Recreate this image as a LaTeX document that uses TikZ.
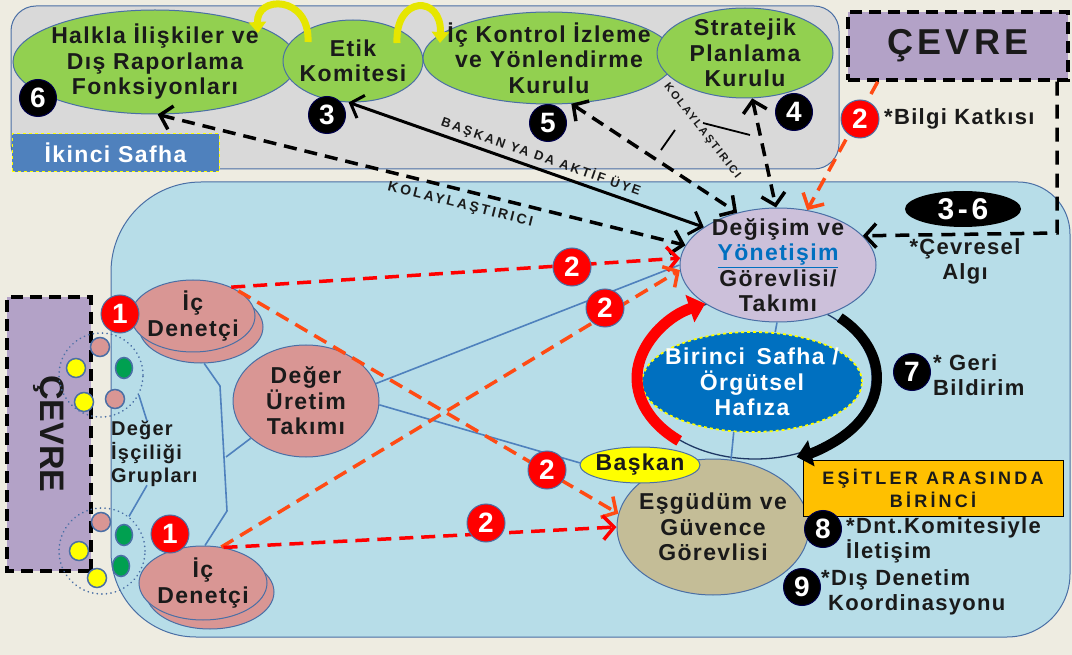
\documentclass[tikz,border=0pt]{standalone}
\usepackage{fontspec}
\setmainfont{Liberation Sans}
\newfontfamily\lab{Liberation Sans}[LetterSpace=6]
\newfontfamily\labw{Liberation Sans}[LetterSpace=18]
\newfontfamily\labx{Liberation Sans}[LetterSpace=12]
\usetikzlibrary{arrows.meta,shapes.geometric,calc}

\definecolor{bg}{HTML}{EEECE1}
\definecolor{panelgray}{HTML}{D9D9D9}
\definecolor{panelblue}{HTML}{B7DDE8}
\definecolor{edgeblue}{HTML}{4A6FA5}
\definecolor{leaf}{HTML}{92D050}
\definecolor{rose}{HTML}{D99694}
\definecolor{lilac}{HTML}{B3A2C7}
\definecolor{lav}{HTML}{CCC0DA}
\definecolor{tanfill}{HTML}{C4BD97}
\definecolor{deepblue}{HTML}{0070C0}
\definecolor{amber}{HTML}{FFC000}
\definecolor{orng}{HTML}{FF4B14}
\definecolor{linkblue}{HTML}{4F81BD}
\definecolor{ylw}{HTML}{FFFF00}
\definecolor{yarrc}{HTML}{E6E600}
\definecolor{dotgreen}{HTML}{00A050}
\definecolor{navy}{HTML}{1F3864}
\definecolor{txt}{HTML}{1A1A1A}

\tikzset{
  ell/.style={ellipse, draw=edgeblue, line width=1pt, inner xsep=-20pt, inner ysep=-12pt,
    align=center, text=txt, font=\lab\bfseries\fontsize{23}{25.5}\selectfont},
  bbadge/.style={circle, fill=black, draw=black!70!blue, line width=1pt, text=white,
    inner sep=0pt, minimum size=37pt, font=\bfseries\fontsize{28}{28}\selectfont},
  rbadge/.style={circle, fill=red, draw=edgeblue, line width=1pt, text=white,
    inner sep=0pt, minimum size=38pt, font=\bfseries\fontsize{28}{28}\selectfont},
  note/.style={align=left, inner sep=0pt, anchor=west, text=txt,
    font=\lab\bfseries\fontsize{22}{25}\selectfont},
  elab/.style={inner sep=0pt, text=txt, font=\labw\bfseries\fontsize{13}{13}\selectfont},
  envbox/.style={draw=black, line width=3.5pt, dash pattern=on 12pt off 7pt, fill=lilac,
    inner sep=0pt, text=txt},
  kdash/.style={draw=black, line width=3.5pt, dash pattern=on 13pt off 8pt, <->},
  ksolid/.style={draw=black, line width=3pt, <->},
  rdash/.style={draw=red, line width=3.5pt, dash pattern=on 14pt off 8pt, ->},
  odash/.style={draw=orng, line width=3.5pt, dash pattern=on 14pt off 8pt, ->},
  blink/.style={draw=linkblue, line width=1.6pt},
  yarr/.style={draw=yarrc, line width=7pt, -{Triangle[length=11pt,width=17pt]}},
  smalldot/.style={circle, draw=edgeblue, line width=1.5pt, minimum size=19pt, inner sep=0pt},
  gdot/.style={ellipse, draw=edgeblue, line width=1.5pt, fill=dotgreen, minimum width=17pt, minimum height=21pt, inner sep=0pt},
  grpring/.style={circle, draw=edgeblue, line width=1.8pt, dash pattern=on 0.1pt off 4.5pt, line cap=round, inner sep=0pt}
}

\begin{document}
\begin{tikzpicture}[x=1pt,y=-1pt, >={Straight Barb[length=11pt,width=24pt]}]
\useasboundingbox (0,0) rectangle (1072,655);
\fill[bg] (0,0) rectangle (1072,655);

% panels
\draw[fill=panelgray, draw=edgeblue, line width=1pt, rounded corners=25pt] (11,6) rectangle (839,169);
\draw[fill=panelblue, draw=edgeblue, line width=1pt]
  (111,272) arc[start angle=180,end angle=270,radius=90] -- (1018,182)
  arc[start angle=270,end angle=360,radius=52] -- (1070,574)
  arc[start angle=0,end angle=90,radius=63] -- (196,637)
  arc[start angle=90,end angle=180,radius=85] -- cycle;

% top ellipses
\node[ell, fill=leaf, minimum width=284pt, minimum height=104pt] (halk) at (155,62) {Halkla İlişkiler ve\\Dış Raporlama\\Fonksiyonları};
\node[ell, fill=leaf, minimum width=140pt, minimum height=82pt] (etik) at (353,61) {Etik\\Komitesi};
\node[ell, fill=leaf, minimum width=252pt, minimum height=92pt] (ick) at (549,58) {İç Kontrol İzleme\\ve Yönlendirme\\Kurulu};
\node[ell, fill=leaf, minimum width=176pt, minimum height=90pt] (strat) at (745,53) {Stratejik\\Planlama\\Kurulu};

\node[bbadge] (b6) at (38,98) {6};
\node[bbadge] (b3) at (327,115) {3};
\node[bbadge] (b5) at (548,123) {5};
\node[bbadge] (b4) at (794,112) {4};

\node[draw=ylw, dashed, line width=1pt, fill=linkblue, text=white, minimum width=207pt, minimum height=38pt,
  inner sep=0pt, font=\lab\bfseries\fontsize{23}{23}\selectfont] (ikinci) at (115.5,153) {İkinci Safha};

% yellow curved arrows
\draw[yarr] ($(etik.center)+(-45,-19)$) .. controls (310,-5) and (256,-5) .. ($(halk.center)+(103,-29)$);
\draw[yarr] ($(etik.center)+(44,-18)$) .. controls (395,-5) and (442,-5) .. ($(ick.center)+(-109,-15)$);

% environment boxes
\node[envbox, minimum width=220pt, minimum height=68pt, font=\labx\bfseries\fontsize{36}{36}\selectfont] (cevre1) at (958,46) {ÇEVRE};
\node[envbox, rotate=-90, minimum width=274pt, minimum height=84pt, font=\bfseries\fontsize{34}{34}\selectfont] (cevre2) at (49,434) {ÇEVRE};

% cycle around Birinci Safha
\coordinate (cyc) at (755,378);
\draw[navy, line width=1.3pt] (cyc) ellipse [x radius=117, y radius=81];

% lower nodes
\node[ell, fill=lav, minimum width=196pt, minimum height=114pt] (deg) at (778,265)
  {Değişim ve\\\textcolor{deepblue}{\underline{Yönetişim}}\\Görevlisi/\\Takımı};
\node[ell, fill=deepblue, draw=ylw, dashed, line width=1.8pt, text=white, minimum width=220pt, minimum height=100pt] (bir) at (752,382)
  {Birinci\, Safha /\\Örgütsel\\Hafıza};
\node[ell, fill=tanfill, minimum width=192pt, minimum height=136pt] (esg) at (713,527) {Eşgüdüm ve\\Güvence\\Görevlisi};
\node[ell, fill=ylw, minimum width=120pt, minimum height=36pt, font=\lab\bfseries\fontsize{23}{23}\selectfont] (baskan) at (640,465) {Başkan};

\node[ell, fill=rose, minimum width=146pt, minimum height=112pt] (deger) at (306,401) {Değer\\Üretim\\Takımı};
\node[ell, fill=rose, minimum width=124pt, minimum height=72pt] (idt1s) at (201,327) {};
\node[ell, fill=rose, minimum width=124pt, minimum height=72pt] (idt1) at (193,316) {İç\\Denetçi};
\node[ell, fill=rose, minimum width=128pt, minimum height=74pt] (idt2s) at (210,592) {};
\node[ell, fill=rose, minimum width=128pt, minimum height=74pt] (idt2) at (203,583) {İç\\Denetçi};

% groups
\node[grpring, minimum size=84pt] (grp1) at (101,375) {};
\node[grpring, minimum size=86pt] (grp2) at (102,551) {};
\node[smalldot, fill=rose] (g1a) at (100,347) {};
\node[smalldot, fill=ylw] (g1b) at (76,368) {};
\node[gdot] (g1c) at (124,368) {};
\node[smalldot, fill=ylw] (g1d) at (84,402) {};
\node[smalldot, fill=rose] (g1e) at (115,399) {};
\node[smalldot, fill=rose] (g2a) at (101,522) {};
\node[gdot] (g2b) at (124,535) {};
\node[smalldot, fill=ylw] (g2c) at (79,551) {};
\node[gdot] (g2d) at (121,566) {};
\node[smalldot, fill=ylw] (g2e) at (97,578) {};
\node[anchor=north west, align=left, inner sep=0pt, text=txt, font=\lab\bfseries\fontsize{20}{23.5}\selectfont] (grptxt) at (111,421) {Değer\\İşçiliği\\Grupları};

% blue links
\coordinate (j1) at (220,386);
\coordinate (j2) at (227,511);
\coordinate (j3) at (226,457);
\draw[blink] (idt1s.-85) -- (j1) -- (j2) -- (idt2.87);
\draw[blink] (j3) -- (deger.-146);
\draw[blink] (deger.14) -- (deg.180);
\draw[blink] (deger.-3) -- (baskan.178);
\draw[blink] (deg.-91) -- (bir.65);
\draw[blink] (bir.-110) -- (esg.75);
\draw[blink] (grp1.-28) -- ($(grptxt.north west)+(36,0)$);
\draw[blink] ($(grptxt.south west)+(36,-2)$) -- (grp2.52);

% other notes and shapes
\node[ellipse, fill=black, minimum width=116pt, minimum height=36pt, inner sep=0pt, text=white,
  font=\labx\bfseries\fontsize{30}{30}\selectfont] (e36) at (963,209) {3-6};
\node[note, anchor=center, align=center] (cevnote) at (965,261) {*Çevresel\\Algı};
\node[note] (bilgi) at (884,119) {*Bilgi Katkısı};
\node[note] (geri) at (933,375) {* Geri\\Bildirim};
\node[draw=black, line width=1pt, fill=amber, minimum width=260pt, minimum height=56pt, inner sep=0pt,
  align=center, text=txt, font=\labw\bfseries\fontsize{18}{23}\selectfont] (esit) at (933,488) {EŞİTLER ARASINDA\\BİRİNCİ};
\node[note] (dnt) at (846,540) {*Dnt.Komitesiyle\\İletişim};
\node[note] (dis) at (821,592) {*Dış Denetim\\\hspace*{7pt}Koordinasyonu};

% black connectors (top)
\draw[kdash] (halk.-87) -- node[sloped, below=7pt, pos=0.58, elab, font=\labw\bfseries\fontsize{14}{14}\selectfont] (kol1) {KOLAYLAŞTIRICI} (deg.168);
\draw[ksolid] (etik.-96) -- node[sloped, above=4pt, pos=0.53, elab] (bya) {BAŞKAN YA DA AKTİF ÜYE} (deg.153);
\draw[kdash] (ick.-64) -- (deg.128);
\draw[kdash] (strat.-81) -- (deg.92);
\node[elab, rotate=-52, font=\labw\bfseries\fontsize{11}{11}\selectfont] (kol2) at (702,131) {KOLAYLAŞTIRICI};
\draw[line width=1.8pt] (703,123) -- (750,135);
\draw[line width=1.8pt] (675,130) -- (661,150);

% environment connectors
\draw[odash] (cevre1.-156) -- (deg.62);
\coordinate (c36) at (1057,233);
\draw[draw=black, line width=3.5pt, dash pattern=on 14pt off 9pt, ->] (cevre1.south -| c36) -- (c36) -- (deg.19);

% red / orange dashed connectors
\draw[rdash] (idt1.37) -- (deg.176);
\draw[odash] (idt1.29) -- (esg.172);
\draw[odash] (idt2.63) -- (deg.183);
\draw[rdash] (idt2.60) -- (esg.180);

% cycle arrows
\draw[red, line width=11pt, -{Triangle[length=16pt,width=28pt]}]
  (cyc) ++(130:118 and 82) arc[start angle=130, end angle=245, x radius=118, y radius=82];
\draw[black, line width=10pt, -{Triangle[length=15pt,width=26pt]}]
  (cyc) ++(-46:122 and 84) arc[start angle=-46, end angle=70, x radius=122, y radius=84];

% badges
\node[rbadge] (r1a) at (120,314) {1};
\node[rbadge] (r1b) at (170,534) {1};
\node[rbadge] (r2a) at (572,267) {2};
\node[rbadge] (r2b) at (605,308) {2};
\node[rbadge] (r2c) at (547,470) {2};
\node[rbadge] (r2d) at (486,523) {2};
\node[rbadge] (r2e) at (860,119) {2};
\node[bbadge] (b7) at (912,372) {7};
\node[bbadge] (b8) at (823,529) {8};
\node[bbadge] (b9) at (802,587) {9};
\end{tikzpicture}
\end{document}
